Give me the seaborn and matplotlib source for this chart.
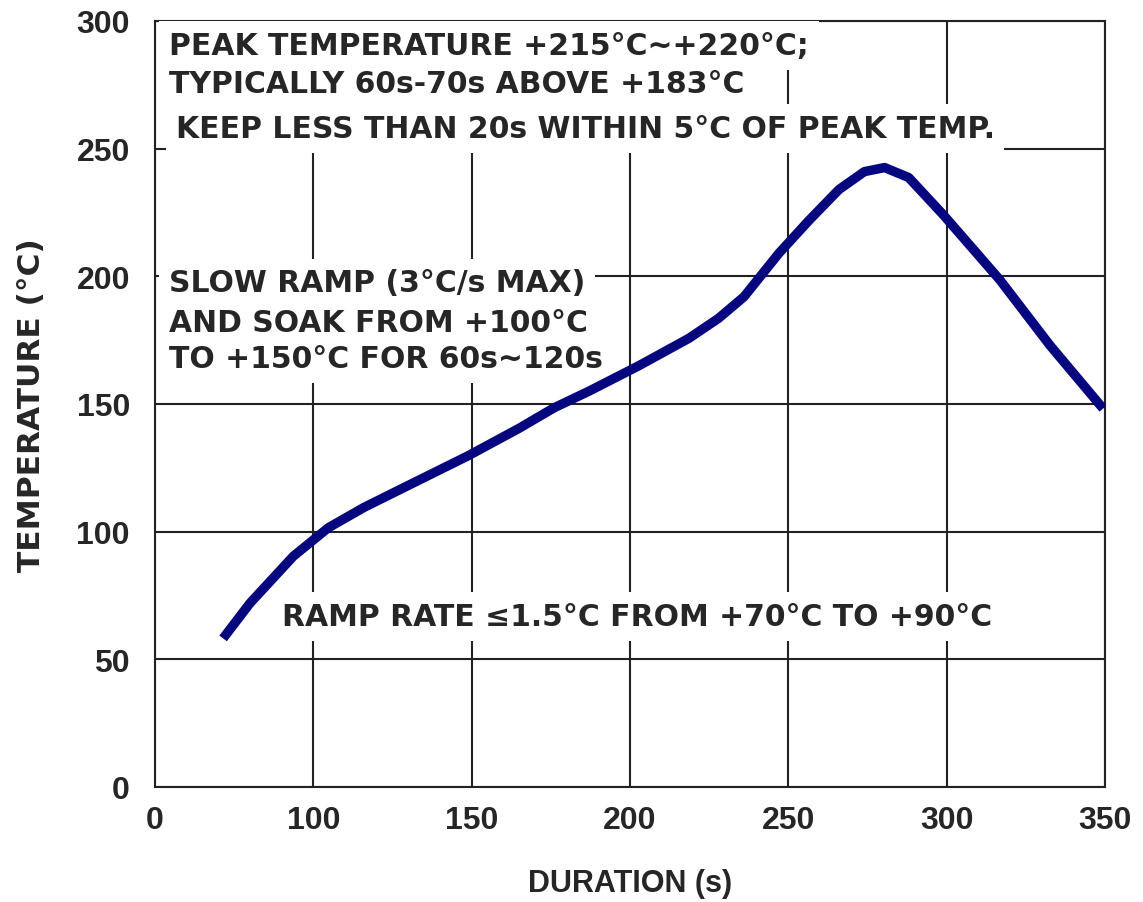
import matplotlib
matplotlib.use("Agg")
import matplotlib.pyplot as plt
import seaborn as sns
import pandas as pd

# Data (axis starts at 50 s, labelled "0")
duration = [71.5, 80, 93.7, 104.7, 116, 128.5, 149, 165, 176, 187, 202.8, 218.7,
            228, 236, 247, 256.6, 266, 274, 280.4, 288, 299, 316.8, 332.6, 349.4]
temperature = [58.2, 72, 90.4, 101.5, 109.5, 117.2, 129.8, 140.5, 148.5, 155, 165, 175.8,
               183.6, 192, 209, 222, 234, 241, 242.6, 238.7, 224, 198.6, 173, 148.2]
x_ticks = [50, 100, 150, 200, 250, 300, 350]
x_tick_labels = ["0", "100", "150", "200", "250", "300", "350"]
y_ticks = [0, 50, 100, 150, 200, 250, 300]

sns.set_style("white")
plt.rcParams['font.family'] = ['Liberation Sans', 'DejaVu Sans']
plt.rcParams['font.weight'] = 'bold'

fig = plt.figure(figsize=(11.43, 9.03), dpi=100)
ax = fig.add_axes([155/1143, 115/903, 950/1143, 766/903])

df = pd.DataFrame({"duration": duration, "temperature": temperature})
sns.lineplot(data=df, x="duration", y="temperature", sort=False, ax=ax,
             color="#06067f", linewidth=6.8, solid_capstyle="butt",
             solid_joinstyle="round", zorder=5)

ax.set_xlim(50, 350)
ax.set_ylim(0, 300)
ax.set_xticks(x_ticks)
ax.set_xticklabels(x_tick_labels)
ax.set_yticks(y_ticks)
ax.tick_params(axis='both', labelsize=23, length=0)
ax.tick_params(axis='x', pad=13)
ax.tick_params(axis='y', pad=18)
for lab in ax.get_xticklabels() + ax.get_yticklabels():
    lab.set_fontweight('bold')

ax.grid(True, color="#222222", linewidth=1.5)
ax.set_axisbelow(True)
for s in ax.spines.values():
    s.set_color("#222222")
    s.set_linewidth(1.5)

ax.set_xlabel("DURATION (s)", fontsize=22, fontweight='bold', labelpad=24)
ax.set_ylabel("TEMPERATURE (°C)", fontsize=22.5, fontweight='bold', labelpad=22,
              family=['DejaVu Sans'])

fs = 21.5
afam = ['DejaVu Sans']
box = dict(facecolor='white', edgecolor='none', pad=7)
ax.text(54.5, 290.5, "PEAK TEMPERATURE +215°C~+220°C;", fontsize=fs, fontweight='bold',
        va='center', ha='left', bbox=box, zorder=3, family=afam)
ax.text(54.5, 275.5, "TYPICALLY 60s-70s ABOVE +183°C", fontsize=fs, fontweight='bold',
        va='center', ha='left', bbox=box, zorder=3, family=afam)
ax.text(56.5, 258, "KEEP LESS THAN 20s WITHIN 5°C OF PEAK TEMP.", fontsize=fs, fontweight='bold',
        va='center', ha='left', bbox=box, zorder=3, family=afam)

ax.text(54.5, 197.4, "SLOW RAMP (3°C/s MAX)", fontsize=fs, fontweight='bold',
        va='center', ha='left', bbox=box, zorder=3, family=afam)
ax.text(54.5, 182.1, "AND SOAK FROM +100°C", fontsize=fs, fontweight='bold',
        va='center', ha='left', bbox=box, zorder=3, family=afam)
ax.text(54.5, 167.9, "TO +150°C FOR 60s~120s", fontsize=fs, fontweight='bold',
        va='center', ha='left', bbox=box, zorder=3, family=afam)

ax.text(90, 66.8, "RAMP RATE ≤1.5°C FROM +70°C TO +90°C", fontsize=fs, fontweight='bold',
        va='center', ha='left', bbox=box, zorder=3, family=afam)

fig.savefig("out.png", dpi=100)
